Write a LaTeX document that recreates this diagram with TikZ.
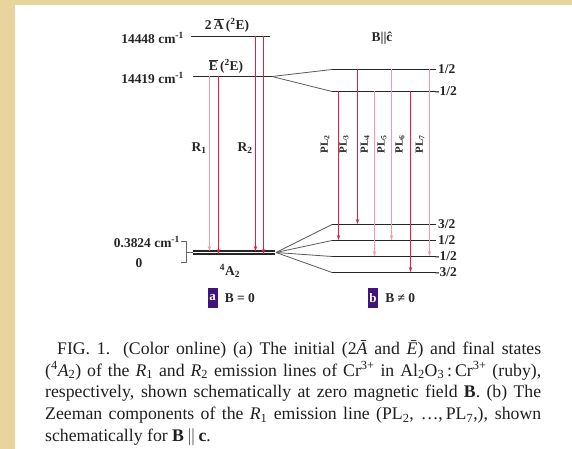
\documentclass[tikz,border=0pt]{standalone}
\usepackage{fontspec}
\setmainfont{Liberation Serif}
\usetikzlibrary{arrows.meta,positioning,calc}
\definecolor{paper}{RGB}{234,212,157}
\definecolor{lineRed}{RGB}{228,30,70}
\definecolor{linePink}{RGB}{244,152,170}
\definecolor{tagPurple}{RGB}{64,20,122}

\begin{document}
\begin{tikzpicture}[x=1bp,y=-1bp,
  level/.style={draw=black!85,line width=1.5bp},
  fan/.style={draw=black!65,line width=0.8bp},
  emit/.style={-{Stealth[length=5bp,width=3.5bp]},line width=1.4bp},
  lbl/.style={font=\fontsize{13.5}{15}\selectfont\bfseries,text=black!85,inner sep=1pt},
  pllbl/.style={font=\fontsize{11}{12}\selectfont\bfseries,text=black!85,rotate=90,inner sep=0pt},
  tag/.style={fill=tagPurple,text=white,font=\fontsize{13}{14}\selectfont\bfseries,
              inner sep=0pt,minimum width=10bp,minimum height=20bp},
  caption/.style={font=\fontsize{17.8}{22}\selectfont,text=black!88,text width=496bp,
                  align=justify,inner sep=0pt}
]
  \useasboundingbox (0,0) rectangle (572,449);
  % Page background
  \fill[paper] (0,0) rectangle (572,449);
  \fill[white] (15,5) rectangle (572,449);

  % Zero field levels
  \coordinate (Aa) at (191,36.5);  \coordinate (Ab) at (270,36.5);
  \coordinate (Ea) at (193,76.5);  \coordinate (Eb) at (272,76.5);
  \coordinate (Ga) at (193,251); \coordinate (Gb) at (275,251);
  \coordinate (Ha) at (193,254); \coordinate (Hb) at (275,254);
  \coordinate (fanE) at (272,76.5);
  \coordinate (fanG) at (276,252.5);
  \draw[level] (Aa) -- (Ab);
  \draw[level] (Ea) -- (Eb);
  \draw[level,line width=1.1bp] (Ga) -- (Gb);
  \draw[level,line width=1.1bp] (Ha) -- (Hb);

  % Zeeman levels
  \foreach \n/\y in {u1/69.5,u2/91.5,g1/224.5,g2/240.5,g3/256.5,g4/272.5}{
    \coordinate (\n a) at (332,\y);
    \coordinate (\n b) at (436,\y);
    \draw[level] (\n a) -- (\n b);
  }
  \draw[fan] (fanE) -- (u1a);
  \draw[fan] (fanE) -- (u2a);
  \foreach \n in {g1,g2,g3,g4}
    \draw[fan] (fanG) -- (\n a);

  % Level labels
  \node[lbl,anchor=east] (e1) at (185,38) {14448 cm\textsuperscript{-1}};
  \node[lbl,anchor=east] (e2) at (185,78) {14419 cm\textsuperscript{-1}};
  \node[lbl,anchor=east] (e3) at (181,242) {0.3824 cm\textsuperscript{-1}};
  \node[lbl] (e0) at (139,263) {0};
  \node[lbl] (tA) at (227,25) {2\,$\overline{\mbox{A}}$\,(\textsuperscript{2}E)};
  \node[lbl] (tE) at (226,66) {$\overline{\mbox{E}}$\,(\textsuperscript{2}E)};
  \node[lbl] (tG) at (230,271) {\textsuperscript{4}A\textsubscript{2}};
  \node[lbl] (field) at (382,38) {B||\^c};
  \node[lbl,anchor=west] (m1) at (437,69) {1/2};
  \node[lbl,anchor=west] (m2) at (434,91) {-1/2};
  \node[lbl,anchor=west] (m3) at (437,224) {3/2};
  \node[lbl,anchor=west] (m4) at (437,240) {1/2};
  \node[lbl,anchor=west] (m5) at (434,256) {-1/2};
  \node[lbl,anchor=west] (m6) at (434,272) {-3/2};

  % Splitting bracket
  \coordinate (bt) at (181,241); \coordinate (bb) at (181,262);
  \draw[black!60,line width=0.8bp] (bt) -- ++(5,0) -- ++(0,21) -- (bb);
  \draw[black!60,line width=0.8bp] (186,252.5) -- (Ga |- fanG);

  % R lines
  \foreach \n/\x/\yt/\yb/\c in {r1/209.5/76/251/linePink,r2/218.5/76/254/lineRed,
                                r3/255.5/36/251/lineRed,r4/263.5/36/254/lineRed}{
    \coordinate (\n s) at (\x,\yt);
    \coordinate (\n e) at (\x,\yb);
    \draw[emit,\c] (\n s) -- (\n e);
  }
  \node[lbl] (R1) at (199,148) {R\textsubscript{1}};
  \node[lbl] (R2) at (245,148) {R\textsubscript{2}};

  % PL lines
  \foreach \n/\x/\yt/\yb/\c/\lx in {2/338.5/91/240/lineRed/325,3/357.5/69/224/lineRed/344,
                                    4/374.5/91/256/linePink/365,5/391.5/69/240/linePink/382,
                                    6/410.5/91/272/lineRed/400,7/429.5/69/256/linePink/420}{
    \coordinate (pl\n s) at (\x,\yt);
    \coordinate (pl\n e) at (\x,\yb);
    \draw[emit,\c] (pl\n s) -- (pl\n e);
    \node[pllbl] (pl\n) at (\lx,144) {PL\textsubscript{\n}};
  }

  % Panel tags
  \node[tag] (ta) at (212.5,298) {a};
  \node[lbl,right=6pt of ta] (Bzero) {B = 0};
  \node[tag] (tb) at (373,298) {b};
  \node[lbl,right=6pt of tb] (Bnon) {B ≠ 0};

  % Caption
  \node[caption,anchor=north west] (cap) at (45,340) {\hspace*{12pt}FIG. 1. (Color online) (a) The initial (2\textit{\=A} and \textit{\=E}) and final states\linebreak
  (\textsuperscript{4}\textit{A}\textsubscript{2}) of the \textit{R}\textsubscript{1} and \textit{R}\textsubscript{2} emission lines of Cr\textsuperscript{3+} in Al\textsubscript{2}O\textsubscript{3}\,:\,Cr\textsuperscript{3+} (ruby),\linebreak
  respectively, shown schematically at zero magnetic field \textbf{B}. (b) The\linebreak
  Zeeman components of the \textit{R}\textsubscript{1} emission line (PL\textsubscript{2}, \ldots,\,PL\textsubscript{7},), shown\linebreak
  schematically for \textbf{B}\,$\|$\,\textbf{c}.};
\end{tikzpicture}
\end{document}
